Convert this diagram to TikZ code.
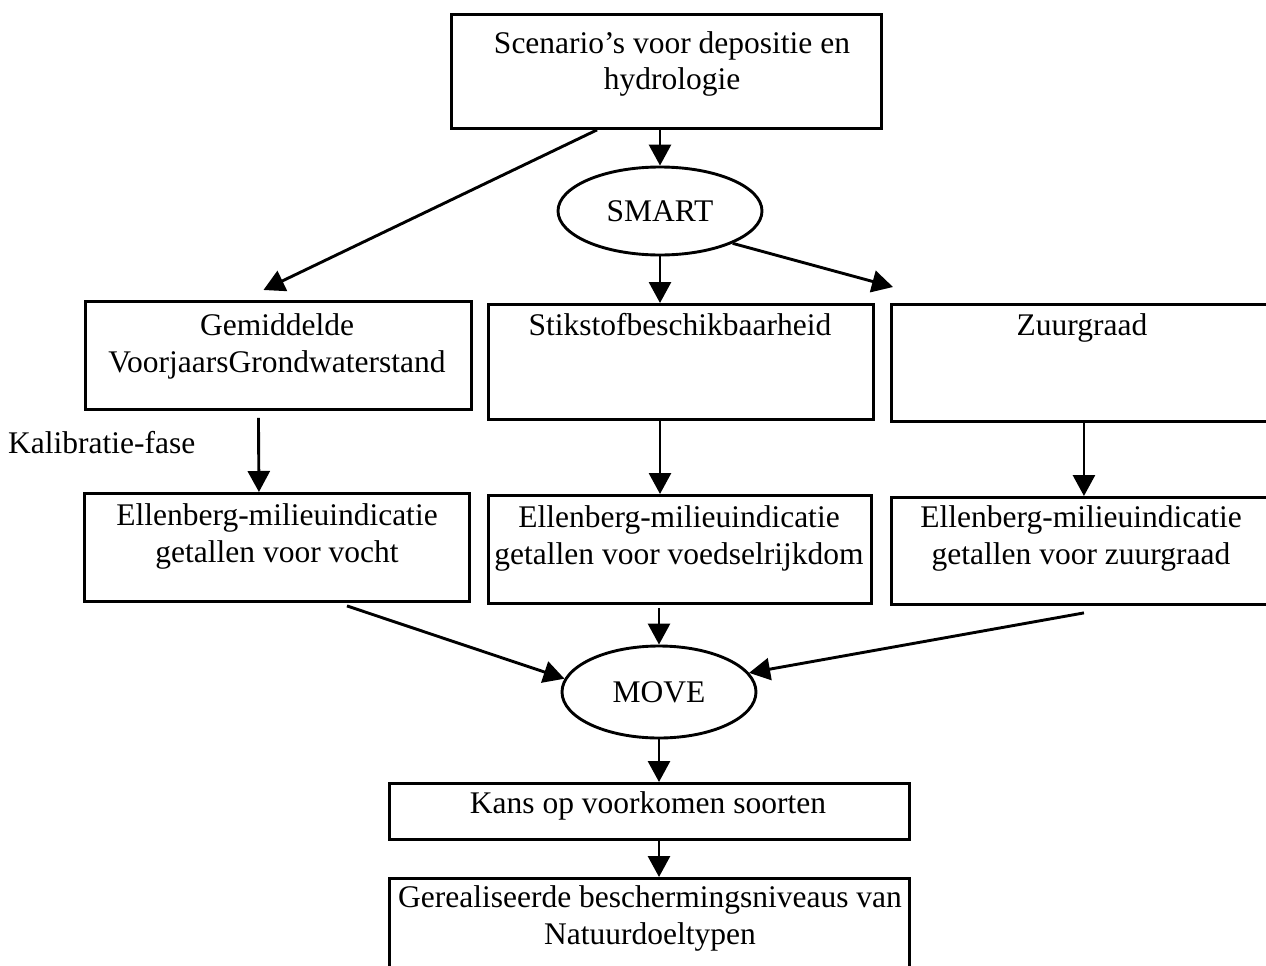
\documentclass[tikz,border=0pt]{standalone}
\usepackage{fontspec}
\setmainfont{Liberation Serif}
\usetikzlibrary{arrows.meta,shapes.geometric,calc}
\begin{document}
\begin{tikzpicture}[x=1pt,y=-1pt,
  box/.style={draw, line width=2.9pt, rectangle, inner sep=0pt, anchor=north west},
  oval/.style={draw, line width=2.9pt, ellipse, inner sep=0pt, font=\fontsize{31.5}{36.5}\selectfont},
  txt/.style={inner sep=0pt, align=center, anchor=north, font=\fontsize{31.5}{36.5}\selectfont},
  arr/.style={line width=2.9pt, -{Triangle[length=21pt,width=22pt]}}
  ]
\useasboundingbox (0,0) rectangle (1266,966);
\fill[white] (0,0) rectangle (1266,966);
\clip (0,0) rectangle (1266,966);

% boxes
\node[box, minimum width=430pt, minimum height=114pt] (top) at (450,13) {};
\node[box, minimum width=386pt, minimum height=108pt] (gvg) at (84,300) {};
\node[box, minimum width=385pt, minimum height=115pt] (stik) at (487,303) {};
\node[box, minimum width=385pt, minimum height=117pt] (zuur) at (890,303) {};
\node[box, minimum width=385pt, minimum height=108pt] (ellv) at (83,492) {};
\node[box, minimum width=383pt, minimum height=108pt] (elln) at (487,494) {};
\node[box, minimum width=385pt, minimum height=107pt] (ellz) at (890,496) {};
\node[box, minimum width=520pt, minimum height=56pt] (kans) at (388,782) {};
\node[box, minimum width=520pt, minimum height=110pt] (ger) at (388,877) {};

% ellipses
\node[oval, minimum width=204pt, minimum height=88pt] (smart) at (660,211) {SMART};
\node[oval, minimum width=194pt, minimum height=92pt] (move) at (659,692) {MOVE};

% texts
\node[txt] (topT) at (672,31) {Scenario’s voor depositie en\\hydrologie};
\node[txt] (gvgT) at (277,313.5) {Gemiddelde\\VoorjaarsGrondwaterstand};
\node[txt] (stikT) at (680,313.5) {Stikstofbeschikbaarheid};
\node[txt] (zuurT) at (1082,313.5) {Zuurgraad};
\node[txt] (ellvT) at (277,503.5) {Ellenberg-milieuindicatie\\getallen voor vocht};
\node[txt] (ellnT) at (679,505.5) {Ellenberg-milieuindicatie\\getallen voor voedselrijkdom};
\node[txt] (ellzT) at (1081,505.5) {Ellenberg-milieuindicatie\\getallen voor zuurgraad};
\node[txt, anchor=base west] (kal) at (8,453) {Kalibratie-fase};
\node[txt, anchor=base] (kansT) at (648,813) {Kans op voorkomen soorten};
\node[txt] (gerT) at (650,885.5) {Gerealiseerde beschermingsniveaus van\\Natuurdoeltypen};

% connectors
\draw[arr] (top.south -| smart.north) -- (smart.north);
\draw[arr] ($(top.south west)+(147,0)$) -- ($(gvg.north)+(-15,-10)$);
\draw[arr] (smart.south) -- (smart.south |- stik.north);
\draw[arr] (smart.-24) -- ($(zuur.north west)+(3,-16)$);
\draw[arr] ($(gvg.south)+(-20,7)$) -- ($(ellv.north)+(-18,0)$);
\draw[arr] (stik.south -| smart.center) -- (elln.north -| smart.center);
\draw[arr] (zuur.south) -- (zuur.south |- ellz.north);
\draw[arr] ($(ellv.south)+(70,3)$) -- (move.172);
\draw[arr] ($(elln.south -| move.north)+(0,3)$) -- (move.north);
\draw[arr] ($(ellz.south)+(0,7)$) -- (move.12);
\draw[arr] (move.south) -- (move.south |- kans.north);
\draw[arr] (kans.south -| move.south) -- (ger.north -| move.south);
\end{tikzpicture}
\end{document}
